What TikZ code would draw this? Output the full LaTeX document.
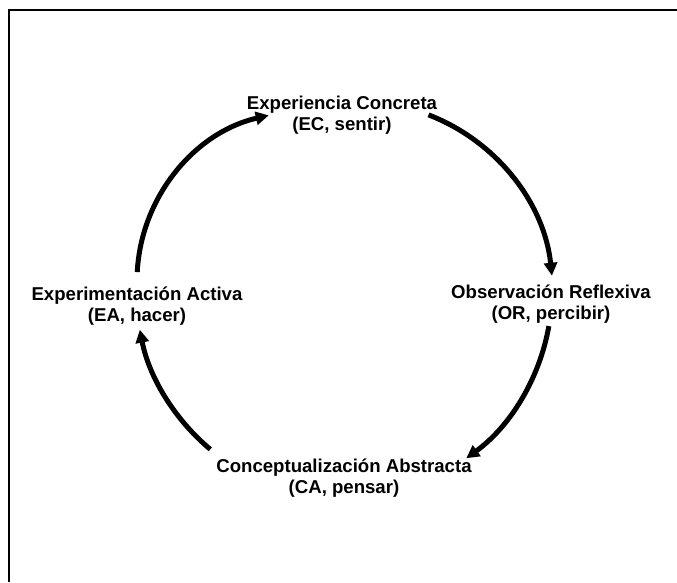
\documentclass[tikz,border=0pt]{standalone}
\usepackage{fontspec}
\setmainfont{Liberation Sans}
\usetikzlibrary{arrows.meta,calc}
\begin{document}
\begin{tikzpicture}[x=1pt,y=1pt,
  lbl/.style={align=center,inner sep=0pt,font=\fontsize{18.6}{21.5}\selectfont\bfseries},
  cyc/.style={line width=5pt,-{Triangle[length=13pt,width=13pt]}},
  frameline/.style={line width=2.2pt}]
\useasboundingbox (0,0) rectangle (677,582);
\draw[frameline] (9,0) -- (9,572) -- (677,572);
\coordinate (c) at (344,292);
\coordinate (c1) at (359,286);
\coordinate (c4) at (307,301);
\node[lbl] (ec) at (342,467) {Experiencia Concreta\\(EC, sentir)};
\node[lbl] (or) at (551,278) {Observación Reflexiva\\(OR, percibir)};
\node[lbl] (ea) at (137,276) {Experimentación Activa\\(EA, hacer)};
\node[lbl] (ca) at (344,104) {Conceptualización Abstracta\\(CA, pensar)};
\coordinate (s1) at ($(c1)+(69:194)$);
\coordinate (s2) at ($(c)+(-10:208)$);
\coordinate (s3) at ($(c)+(230:208)$);
\coordinate (s4) at ($(c4)+(177:170)$);
\draw[cyc] (s1) arc[start angle=69,end angle=6,radius=194];
\draw[cyc] (s2) arc[start angle=-10,end angle=-54,radius=208];
\draw[cyc] (s3) arc[start angle=230,end angle=191,radius=208];
\draw[cyc] (s4) arc[start angle=177,end angle=103,radius=170];
\end{tikzpicture}
\end{document}
